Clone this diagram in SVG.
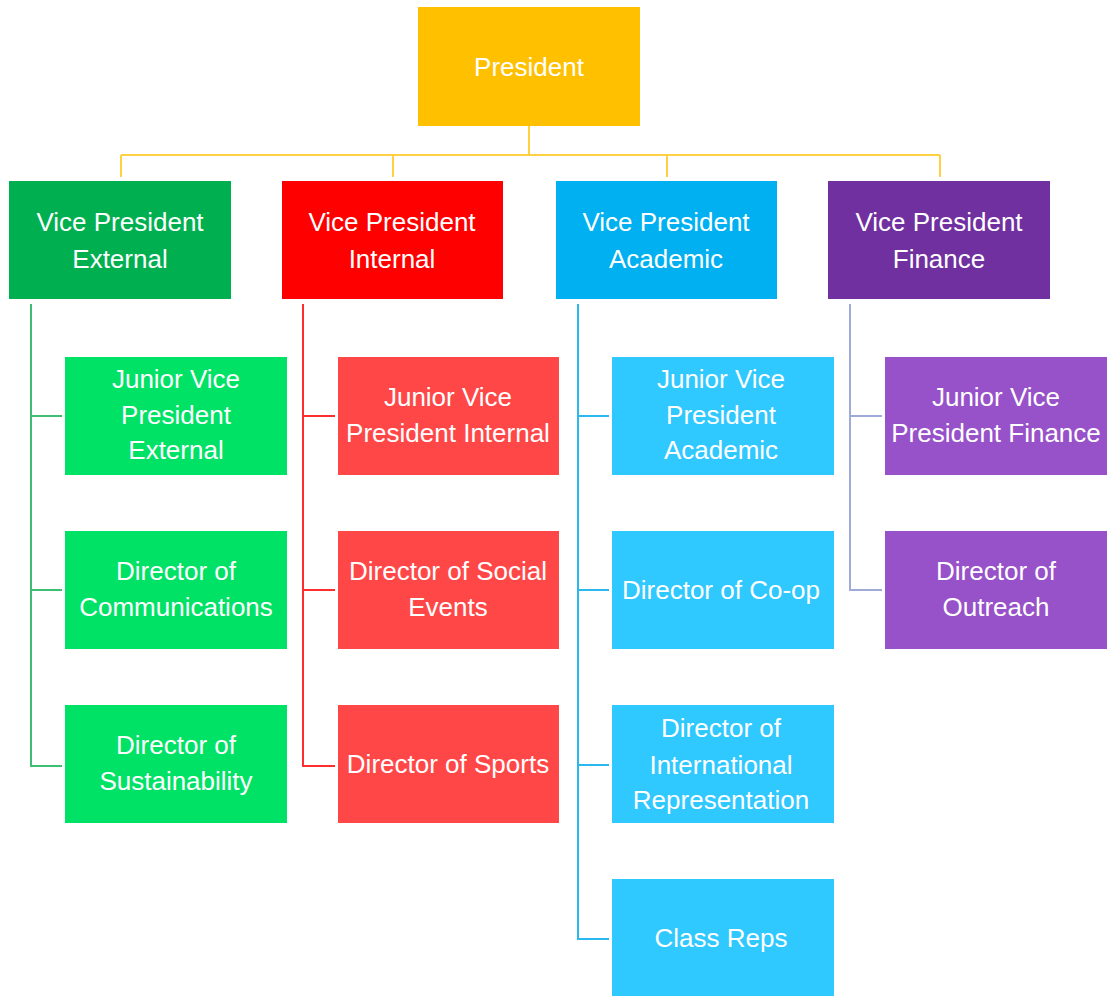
<svg xmlns="http://www.w3.org/2000/svg" width="1107" height="996" viewBox="0 0 1107 996">
<style>
text{font-family:"Liberation Sans",Arial,sans-serif;font-size:26px;fill:#ffffff;text-anchor:middle}
.ln{fill:none;stroke-width:2}
.pres{fill:#FFC000}
.vpe{fill:#00B050}.vpi{fill:#FF0000}.vpa{fill:#00B0F0}.vpf{fill:#7030A0}
.ce{fill:#00E266}.ci{fill:#FF4747}.ca{fill:#2FC8FF}.cf{fill:#9751C9}
</style>
<rect width="1107" height="996" fill="#ffffff"/>
<g id="connectors">
<path class="ln" stroke="#FFC000" stroke-opacity="0.75" d="M529 126V155M121 155H940M121 155V177M393 155V177M667 155V177M940 155V177"/>
<path class="ln" stroke="#3DBE72" d="M31 304V766H62M31 416H62M31 590H62"/>
<path class="ln" stroke="#FF2E2E" d="M303 304V766H335M303 416H335M303 590H335"/>
<path class="ln" stroke="#2AB8EE" d="M578 304V939H609M578 416H609M578 590H609M578 765H609"/>
<path class="ln" stroke="#A0AAD8" d="M850 304V590H882M850 416H882"/>
</g>
<g id="president"><rect class="pres" x="418" y="7" width="222" height="119"/><text x="529" y="76">President</text></g>
<g id="vp-external"><rect class="vpe" x="9" y="181" width="222" height="118"/><text x="120" y="231">Vice President</text><text x="120" y="268">External</text></g>
<g id="vp-internal"><rect class="vpi" x="282" y="181" width="221" height="118"/><text x="392" y="231">Vice President</text><text x="392" y="268">Internal</text></g>
<g id="vp-academic"><rect class="vpa" x="556" y="181" width="221" height="118"/><text x="666" y="231">Vice President</text><text x="666" y="268">Academic</text></g>
<g id="vp-finance"><rect class="vpf" x="828" y="181" width="222" height="118"/><text x="939" y="231">Vice President</text><text x="939" y="268">Finance</text></g>

<g id="jvp-external"><rect class="ce" x="65" y="357" width="222" height="118"/><text x="176" y="388">Junior Vice</text><text x="176" y="424">President</text><text x="176" y="459">External</text></g>
<g id="dir-communications"><rect class="ce" x="65" y="531" width="222" height="118"/><text x="176" y="580">Director of</text><text x="176" y="616">Communications</text></g>
<g id="dir-sustainability"><rect class="ce" x="65" y="705" width="222" height="118"/><text x="176" y="754">Director of</text><text x="176" y="790">Sustainability</text></g>

<g id="jvp-internal"><rect class="ci" x="338" y="357" width="221" height="118"/><text x="448" y="406">Junior Vice</text><text x="448" y="442">President Internal</text></g>
<g id="dir-social"><rect class="ci" x="338" y="531" width="221" height="118"/><text x="448" y="580">Director of Social</text><text x="448" y="616">Events</text></g>
<g id="dir-sports"><rect class="ci" x="338" y="705" width="221" height="118"/><text x="448" y="773">Director of Sports</text></g>

<g id="jvp-academic"><rect class="ca" x="612" y="357" width="222" height="118"/><text x="721" y="388">Junior Vice</text><text x="721" y="424">President</text><text x="721" y="459">Academic</text></g>
<g id="dir-coop"><rect class="ca" x="612" y="531" width="222" height="118"/><text x="721" y="599">Director of Co-op</text></g>
<g id="dir-international"><rect class="ca" x="612" y="705" width="222" height="118"/><text x="721" y="737">Director of</text><text x="721" y="774">International</text><text x="721" y="809">Representation</text></g>
<g id="class-reps"><rect class="ca" x="612" y="879" width="222" height="120"/><text x="721" y="947">Class Reps</text></g>

<g id="jvp-finance"><rect class="cf" x="885" y="357" width="222" height="118"/><text x="996" y="406">Junior Vice</text><text x="996" y="442">President Finance</text></g>
<g id="dir-outreach"><rect class="cf" x="885" y="531" width="222" height="118"/><text x="996" y="580">Director of</text><text x="996" y="616">Outreach</text></g>
</svg>
